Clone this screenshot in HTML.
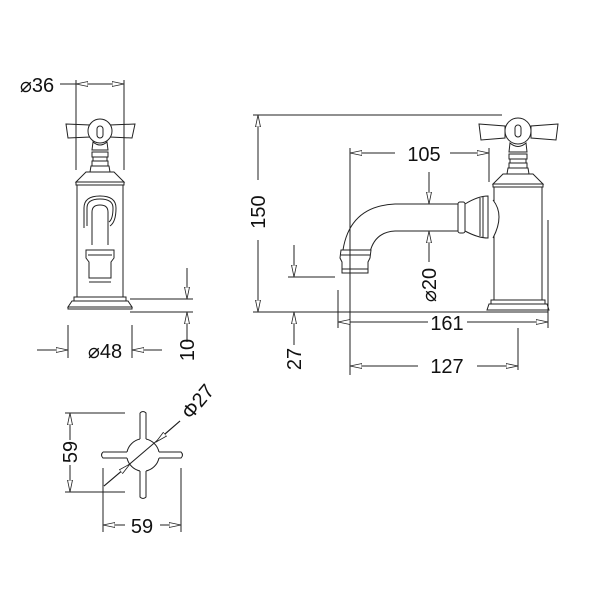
<!DOCTYPE html>
<html><head><meta charset="utf-8"><style>
html,body{margin:0;padding:0;background:#fff;}
svg{display:block;}
text{font-family:"Liberation Sans",Arial,sans-serif;font-size:20px;fill:#111;text-anchor:middle;}
</style></head><body>
<svg width="600" height="600" viewBox="0 0 600 600" xmlns="http://www.w3.org/2000/svg">
<defs>
<marker id="a" viewBox="0 0 12 6" refX="12" refY="3" markerWidth="12" markerHeight="6" orient="auto" markerUnits="userSpaceOnUse">
<path d="M0,0.5 L12,3 L0,5.5 Z" fill="#fff" stroke="#222" stroke-width="0.8"/></marker>
</defs>
<g stroke="#222" stroke-width="1" fill="none">
<!-- FRONT VIEW -->
<path d="M66,124 L90,125 L90,137 L68,138 Z M135,124 L110,125 L110,137 L132,138 Z" fill="#fff"/>
<circle cx="100" cy="131" r="12" fill="#fff"/>
<rect x="97" y="126" width="6" height="12" rx="3"/>
<path d="M93,142 Q100,148 107,142 L108,150 L92,150 Z"/>
<rect x="92" y="152" width="16" height="5"/><rect x="93" y="157" width="14" height="4"/><rect x="92" y="161" width="16" height="5"/>
<path d="M91,166 L109,166 L110,172 L90,172 Z"/>
<path d="M86,172 L114,172 L124,182 L76,182 Z"/>
<rect x="76" y="182" width="48" height="3"/>
<rect x="77" y="185" width="46" height="112"/>
<path d="M84,228 L84,208 Q84,196 100,196 Q116,196 116,208 Q116,222 110,226"/>
<path d="M87,226 L87,208 Q87,199 100,199 Q113,199 113,208 Q113,219 109,222"/>
<path d="M92,245 L92,212 Q92,205 100,205 Q108,205 108,212 L108,245"/>
<path d="M86,250 L114,250 L114,258 L111,262 L111,278 L89,278 L89,262 L86,258 Z" fill="#fff"/>
<line x1="88" y1="255" x2="112" y2="255"/>
<line x1="89" y1="282" x2="111" y2="282"/>
<rect x="74" y="297" width="52" height="4"/>
<path d="M72,301 L128,301 L132,307 L68,307 Z"/>
<rect x="68" y="307" width="64" height="2"/>
<!-- dims front -->
<line x1="76" y1="80" x2="76" y2="170"/><line x1="124" y1="80" x2="124" y2="170"/>
<line x1="60" y1="84" x2="76" y2="84"/>
<line x1="100" y1="84" x2="76" y2="84" marker-end="url(#a)"/>
<line x1="100" y1="84" x2="124" y2="84" marker-end="url(#a)"/>
<line x1="68" y1="325" x2="68" y2="358"/><line x1="132" y1="325" x2="132" y2="358"/>
<line x1="37" y1="350" x2="68" y2="350" marker-end="url(#a)"/>
<line x1="162" y1="350" x2="132" y2="350" marker-end="url(#a)"/>
<line x1="130" y1="299" x2="193" y2="299"/><line x1="130" y1="312" x2="193" y2="312"/>
<line x1="187" y1="268" x2="187" y2="299" marker-end="url(#a)"/>
<line x1="187" y1="342" x2="187" y2="312" marker-end="url(#a)"/>
<!-- SIDE VIEW -->
<line x1="253" y1="115" x2="502" y2="115"/><line x1="253" y1="312" x2="548" y2="312"/>
<line x1="258" y1="180" x2="258" y2="115" marker-end="url(#a)"/>
<line x1="258" y1="240" x2="258" y2="312" marker-end="url(#a)"/>
<path d="M479,124 L505,126 L505,138 L481,140 Z M558,124 L531,126 L531,138 L556,140 Z" fill="#fff"/>
<circle cx="518" cy="131" r="13" fill="#fff"/>
<rect x="515" y="125" width="6" height="12" rx="3"/>
<path d="M510,143 Q518,150 526,143 L527,152 L509,152 Z"/>
<rect x="509" y="154" width="18" height="5"/><rect x="510" y="159" width="16" height="4"/><rect x="509" y="163" width="18" height="5"/>
<path d="M508,168 L528,168 L529,174 L507,174 Z"/>
<path d="M503,174 L533,174 L543,184 L493,184 Z"/>
<rect x="493" y="184" width="50" height="3"/>
<rect x="494" y="187" width="48" height="113"/>
<rect x="491" y="300" width="54" height="4"/>
<path d="M489,304 L547,304 L549,310 L487,310 Z"/>
<!-- spout -->
<path d="M493,200 Q505,215 493,238" fill="#fff"/>
<path d="M465,204 Q478,196 488,196 L488,238 Q478,238 465,231 Z" fill="#fff"/>
<line x1="480" y1="198" x2="480" y2="236"/><line x1="483" y1="197" x2="483" y2="237"/>
<rect x="458" y="202" width="7" height="31" rx="2" fill="#fff"/>
<path d="M458,204 L395,204 Q350,206 343,250"/>
<path d="M458,231 L395,231 Q375,232 370,252"/>
<path d="M341,250 L371,250 L370,258 L368,262 L368,273 L342,273 L342,262 L340,258 Z" fill="#fff"/>
<line x1="341" y1="255" x2="370" y2="255"/><line x1="342" y1="269" x2="368" y2="269"/>
<!-- side dims -->
<line x1="350" y1="148" x2="350" y2="375"/><line x1="489" y1="148" x2="489" y2="182"/>
<line x1="395" y1="153" x2="350" y2="153" marker-end="url(#a)"/>
<line x1="450" y1="153" x2="489" y2="153" marker-end="url(#a)"/>
<line x1="429" y1="172" x2="429" y2="204" marker-end="url(#a)"/>
<line x1="429" y1="262" x2="429" y2="231" marker-end="url(#a)"/>
<line x1="338" y1="290" x2="338" y2="328"/><line x1="548" y1="220" x2="548" y2="328"/>
<line x1="428" y1="322" x2="338" y2="322" marker-end="url(#a)"/>
<line x1="467" y1="322" x2="548" y2="322" marker-end="url(#a)"/>
<line x1="518" y1="328" x2="518" y2="370"/>
<line x1="418" y1="366" x2="350" y2="366" marker-end="url(#a)"/>
<line x1="477" y1="366" x2="518" y2="366" marker-end="url(#a)"/>
<line x1="288" y1="277" x2="335" y2="277"/>
<line x1="294" y1="245" x2="294" y2="277" marker-end="url(#a)"/>
<line x1="294" y1="345" x2="294" y2="312" marker-end="url(#a)"/>
<!-- TOP VIEW -->
<path d="M140,413 Q143,410 146,413 L146,439 M140,439 L140,413 M140,471 L140,497 Q143,500 146,497 L146,471 M103,452 Q100,455 103,458 L127,458 M127,452 L103,452 M159,452 L181,452 Q184,455 181,458 L159,458"/>
<path d="M146,439 A17,17 0 0 1 159,452 M159,458 A17,17 0 0 1 146,471 M140,471 A17,17 0 0 1 127,458 M127,452 A17,17 0 0 1 140,439"/>
<line x1="65" y1="413" x2="125" y2="413"/><line x1="65" y1="492" x2="125" y2="492"/>
<line x1="70" y1="440" x2="70" y2="413" marker-end="url(#a)"/>
<line x1="70" y1="465" x2="70" y2="492" marker-end="url(#a)"/>
<line x1="103" y1="468" x2="103" y2="532"/><line x1="181" y1="468" x2="181" y2="532"/>
<line x1="125" y1="525" x2="103" y2="525" marker-end="url(#a)"/>
<line x1="160" y1="525" x2="181" y2="525" marker-end="url(#a)"/>
<line x1="104" y1="486" x2="180" y2="421"/>
<line x1="104" y1="486" x2="130" y2="464" marker-end="url(#a)"/>
<line x1="180" y1="421" x2="156" y2="442" marker-end="url(#a)"/>
</g>
<g>
<text x="37" y="92">⌀36</text>
<text x="105" y="358">⌀48</text>
<text transform="translate(194,350) rotate(-90)">10</text>
<text transform="translate(265,212) rotate(-90)">150</text>
<text x="424" y="161">105</text>
<text transform="translate(436,285) rotate(-90)">⌀20</text>
<text x="447" y="330">161</text>
<text x="447" y="373">127</text>
<text transform="translate(301,359) rotate(-90)">27</text>
<text transform="translate(77,452) rotate(-90)">59</text>
<text x="142" y="533">59</text>
<text transform="translate(203,406) rotate(-50)">Φ27</text>
</g>
</svg>
</body></html>
